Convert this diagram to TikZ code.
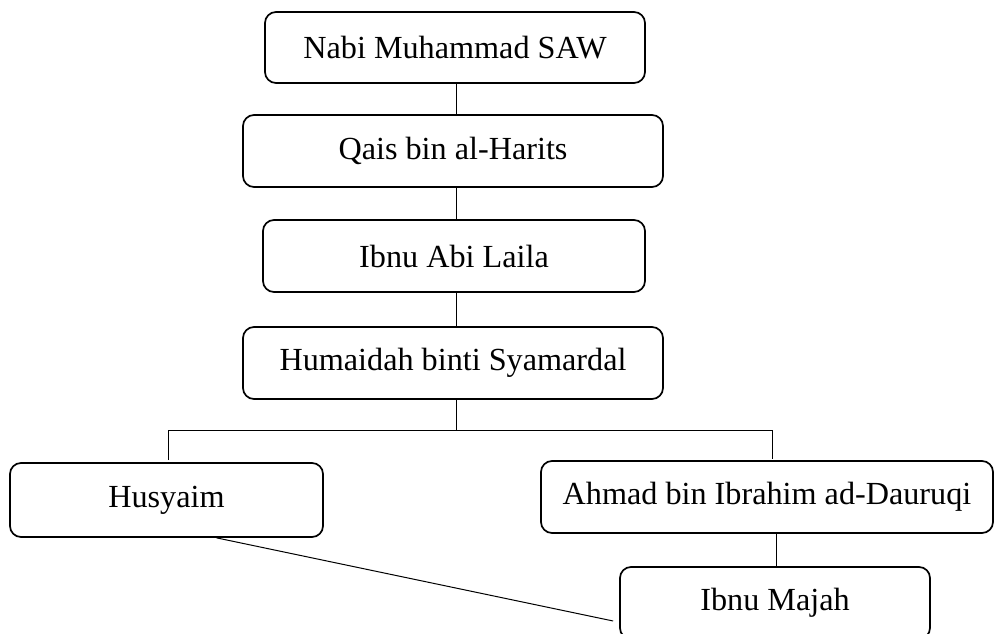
\documentclass[tikz,border=0pt]{standalone}
\usepackage{fontspec}
\setmainfont{Liberation Serif}
\begin{document}
\begin{tikzpicture}[x=1pt,y=-1pt,
  box/.style={draw, line width=1.7pt, rounded corners=11pt, inner sep=0pt,
    font=\fontsize{32.2}{38}\selectfont, align=center},
  conn/.style={line width=1pt}]
\clip (0,0) rectangle (994,634);
\fill[white] (0,0) rectangle (994,634);
\node[box, minimum width=380pt, minimum height=71pt] (b1) at (455,47.5) {Nabi Muhammad SAW};
\node[box, minimum width=420pt, minimum height=72pt] (b2) at (453,151) {Qais bin al-Harits};
\node[box, minimum width=382pt, minimum height=72pt] (b3) at (454,256) {Ibnu Abi Laila};
\node[box, minimum width=420pt, minimum height=72pt] (b4) at (453,363) {Humaidah binti Syamardal};
\node[box, minimum width=313pt, minimum height=74pt] (hus) at (166.5,500) {Husyaim};
\node[box, minimum width=452pt, minimum height=72pt] (ahm) at (767,497) {Ahmad bin Ibrahim ad-Dauruqi};
\node[box, minimum width=310pt, minimum height=72pt] (maj) at (775,603) {Ibnu Majah};
\coordinate (l) at (168,430);
\coordinate (r) at (772,430);
\coordinate (m) at (456,430);
\draw[conn] ([xshift=1pt]b1.south) -- ([xshift=1pt]b1.south |- b2.north);
\draw[conn] ([xshift=3pt]b2.south) -- ([xshift=3pt]b2.south |- b3.north);
\draw[conn] ([xshift=2pt]b3.south) -- ([xshift=2pt]b3.south |- b4.north);
\draw[conn] ([xshift=3pt]b4.south) -- (m);
\draw[conn] ([yshift=2pt]l |- hus.north) -- (l) -- (r) -- ([yshift=1pt]r |- ahm.north);
\draw[conn] ([xshift=1pt]maj.north) -- ([xshift=1pt]maj.north |- ahm.south);
\draw[conn] ([xshift=50pt]hus.south) -- ([xshift=-6pt,yshift=-18pt]maj.west);
\end{tikzpicture}
\end{document}
